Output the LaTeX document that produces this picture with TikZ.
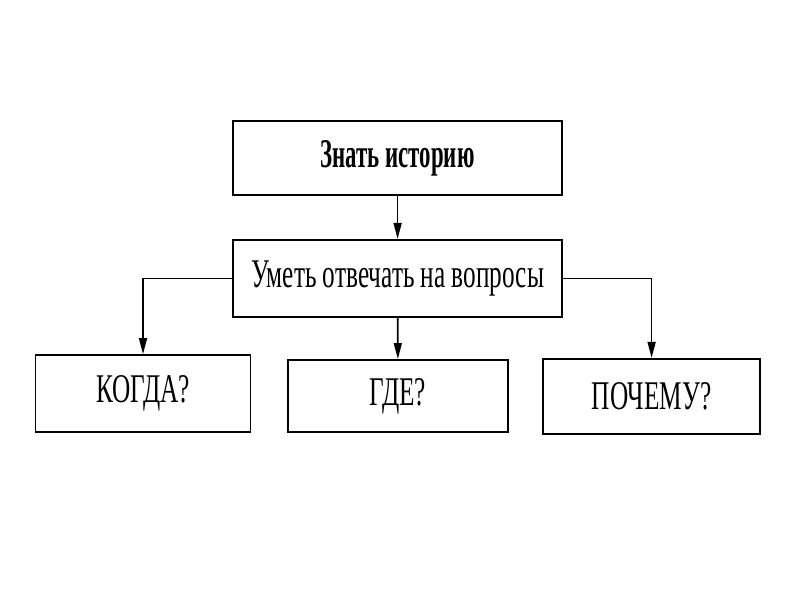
\documentclass[tikz,border=0pt]{standalone}
\usepackage{fontspec}
\setmainfont[FakeStretch=0.62, BoldFeatures={FakeStretch=0.56}]{Liberation Serif}
\usepackage{tikz}
\usetikzlibrary{arrows.meta, positioning}

\begin{document}
\begin{tikzpicture}[
  box/.style={rectangle, draw, line width=1.4pt, inner sep=0pt, font=\fontsize{29}{31}\selectfont},
  head/.style={font=\fontsize{29}{31}\selectfont\bfseries},
  arr/.style={line width=1.2pt, -{Triangle[length=0.4cm,width=0.2cm]}}
]
\useasboundingbox (0,0) rectangle (20,-15);

\node[box, head, minimum width=8.225cm, minimum height=1.85cm] (know) at (9.94,-3.95) {Знать историю};
\node[box, minimum width=8.225cm, minimum height=1.925cm] (ask) at (9.94,-6.96) {Уметь отвечать на вопросы};

\node[box, minimum width=5.375cm, minimum height=1.925cm] (when) at (3.575,-9.84) {КОГДА?};
\node[box, minimum width=5.5cm, minimum height=1.8cm] (where) at (9.95,-9.9) {ГДЕ?};
\node[box, minimum width=5.425cm, minimum height=1.875cm] (why) at (16.29,-9.91) {ПОЧЕМУ?};

\draw[arr] (know) -- (ask);
\draw[arr] (ask.west) -| (when.north);
\draw[arr] (ask) -- (where);
\draw[arr] (ask.east) -| (why.north);
\end{tikzpicture}
\end{document}
